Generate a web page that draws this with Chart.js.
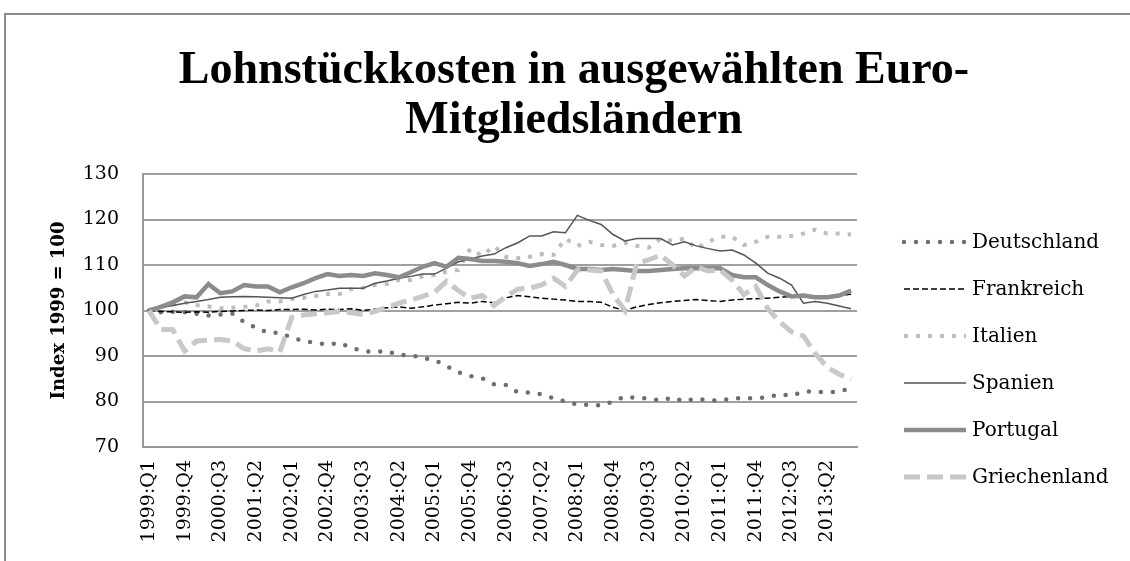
<!DOCTYPE html>
<html>
<head>
<meta charset="utf-8">
<script src="https://cdn.jsdelivr.net/npm/chart.js@4.4.1/dist/chart.umd.min.js"></script>
<style>
  html, body { margin: 0; padding: 0; background: #fff; }
  #wrap { position: relative; width: 1130px; height: 561px; overflow: hidden; }
  #frame { position: absolute; left: 4px; top: 13px; width: 1200px; height: 600px;
           border-top: 2px solid #8c8c8c; border-left: 2px solid #8c8c8c; }
  canvas { position: absolute; left: 0; top: 0; }
</style>
</head>
<body>
<div id="wrap">
  <div id="frame"></div>
  <canvas id="chart_lohn" width="1130" height="561"></canvas>
</div>
<script>
// Quartale 1999:Q1 - 2013:Q4
const quartale = [
  '1999:Q1','1999:Q2','1999:Q3','1999:Q4','2000:Q1','2000:Q2','2000:Q3','2000:Q4',
  '2001:Q1','2001:Q2','2001:Q3','2001:Q4','2002:Q1','2002:Q2','2002:Q3','2002:Q4',
  '2003:Q1','2003:Q2','2003:Q3','2003:Q4','2004:Q1','2004:Q2','2004:Q3','2004:Q4',
  '2005:Q1','2005:Q2','2005:Q3','2005:Q4','2006:Q1','2006:Q2','2006:Q3','2006:Q4',
  '2007:Q1','2007:Q2','2007:Q3','2007:Q4','2008:Q1','2008:Q2','2008:Q3','2008:Q4',
  '2009:Q1','2009:Q2','2009:Q3','2009:Q4','2010:Q1','2010:Q2','2010:Q3','2010:Q4',
  '2011:Q1','2011:Q2','2011:Q3','2011:Q4','2012:Q1','2012:Q2','2012:Q3','2012:Q4',
  '2013:Q1','2013:Q2','2013:Q3','2013:Q4'
];

// nur jedes dritte Quartal wird beschriftet
const xBeschriftung = [
  '1999:Q1','1999:Q4','2000:Q3','2001:Q2','2002:Q1','2002:Q4','2003:Q3','2004:Q2',
  '2005:Q1','2005:Q4','2006:Q3','2007:Q2','2008:Q1','2008:Q4','2009:Q3','2010:Q2',
  '2011:Q1','2011:Q4','2012:Q3','2013:Q2'
];

const yTicks = [70, 80, 90, 100, 110, 120, 130];

const deutschland = [
  100, 99.6, 99.7, 99.6, 99.3, 98.9, 99.1, 99.3, 97.5, 96.2, 95.1, 95.1,
  94.0, 93.3, 92.9, 92.5, 92.9, 91.8, 91.1, 90.9, 91.1, 90.2, 90.2, 89.6,
  89.1, 87.8, 86.4, 85.6, 85.1, 83.8, 83.6, 82.0, 82.0, 81.6, 80.7, 80.0,
  79.3, 79.3, 79.1, 80.0, 81.1, 80.7, 80.7, 80.2, 80.9, 80.0, 80.7, 80.2,
  80.2, 80.7, 80.7, 80.7, 80.9, 81.6, 81.3, 82.2, 82.2, 82.0, 82.2, 82.9
];
const frankreich = [
  100, 99.8, 99.7, 99.6, 99.7, 99.6, 99.8, 99.9, 100, 100.1, 100, 100.2,
  100.2, 100.3, 100.1, 100.3, 100.2, 100.4, 100.0, 100.3, 100.6, 100.8, 100.5, 100.8,
  101.2, 101.5, 101.8, 101.6, 102.0, 101.7, 102.8, 103.3, 103.0, 102.7, 102.5, 102.3,
  102.0, 102.0, 101.8, 100.7, 100.0, 100.8, 101.3, 101.7, 102.0, 102.2, 102.4, 102.2,
  102.0, 102.3, 102.5, 102.6, 102.7, 102.9, 103.1, 103.0, 103.0, 103.0, 103.2, 103.6
];
const italien = [
  100, 100.8, 101.3, 101.8, 101.2, 100.9, 100.5, 100.6, 100.8, 101.1, 102.0, 102.0,
  102.5, 102.8, 103.2, 103.6, 103.6, 104.7, 105.0, 105.6, 105.8, 106.7, 106.7, 107.5,
  107.8, 108.5, 108.9, 113.6, 112.0, 114.2, 111.8, 111.5, 111.8, 112.4, 112.2, 115.8,
  114.2, 115.1, 114.4, 114.2, 114.9, 114.2, 113.8, 115.8, 115.3, 115.8, 113.6, 115.1,
  116.2, 116.2, 114.4, 115.1, 116.2, 116.2, 116.4, 116.9, 117.8, 116.9, 116.9, 116.7
];
const spanien = [
  100, 100.6, 101.1, 101.6, 102.0, 102.4, 102.9, 103.0, 103.1, 103.0, 102.9, 102.8,
  102.7, 103.5, 104.2, 104.5, 104.9, 104.9, 104.9, 106.0, 106.5, 107.1, 107.5, 108.0,
  108.0, 109.3, 110.7, 111.3, 112.0, 112.4, 113.8, 114.9, 116.4, 116.4, 117.3, 117.1,
  120.9, 119.8, 118.9, 116.7, 115.3, 115.8, 115.8, 115.8, 114.4, 115.1, 114.2, 113.6,
  113.1, 113.3, 112.2, 110.4, 108.2, 107.1, 105.6, 101.6, 102.0, 101.6, 101.0, 100.4
];
const portugal = [
  100, 100.8, 101.8, 103.1, 102.9, 105.8, 103.8, 104.2, 105.6, 105.3, 105.3, 104.0,
  105.1, 106.0, 107.1, 108.0, 107.6, 107.8, 107.6, 108.2, 107.8, 107.3, 108.4, 109.6,
  110.4, 109.6, 111.6, 111.3, 110.9, 110.9, 110.7, 110.4, 109.8, 110.2, 110.7, 110.0,
  109.1, 109.1, 108.9, 109.1, 108.9, 108.7, 108.7, 108.9, 109.1, 109.3, 109.3, 109.3,
  109.3, 107.8, 107.3, 107.3, 105.6, 104.2, 103.1, 103.3, 102.9, 102.9, 103.3, 104.4
];
const griechenland = [
  100, 95.8, 95.8, 91.1, 93.3, 93.5, 93.6, 93.3, 91.6, 91.1, 91.6, 90.9,
  98.5, 99.0, 99.3, 99.5, 99.8, 99.5, 99.1, 99.8, 100.7, 101.6, 102.3, 103.1,
  104.0, 106.4, 104.4, 102.7, 103.3, 101.1, 103.1, 104.7, 104.9, 105.6, 107.1, 105.3,
  108.9, 108.9, 108.7, 103.5, 100.0, 110.4, 111.1, 112.2, 110.0, 107.6, 109.6, 108.7,
  108.9, 106.7, 103.5, 105.3, 100.4, 97.5, 95.3, 94.4, 90.5, 87.5, 86.0, 84.9
];

// Legende rechts neben dem Diagramm
const legendePlugin = {
    id: 'legendePlugin',
    afterDraw: (chart) => {
        const ctx = chart.ctx;
        const x0 = chart.chartArea.right + 47;
        ctx.save();
        ctx.font = '20px "DejaVu Serif"';
        ctx.textBaseline = 'middle';
        ctx.textAlign = 'left';
        chart.data.datasets.forEach((ds, i) => {
            const y = 242 + i * 47;
            ctx.beginPath();
            ctx.setLineDash(ds.borderDash || []);
            ctx.lineCap = ds.borderCapStyle || 'butt';
            ctx.lineWidth = ds.borderWidth;
            ctx.strokeStyle = ds.borderColor;
            ctx.moveTo(x0, y);
            ctx.lineTo(x0 + 62, y);
            ctx.stroke();
            ctx.setLineDash([]);
            ctx.fillStyle = '#000';
            ctx.fillText(ds.label, x0 + 68, y + 1);
        });
        ctx.restore();
    }
};

const ctx_lohn = document.getElementById('chart_lohn').getContext('2d');

new Chart(ctx_lohn, {
    type: 'line',
    data: {
        labels: quartale,
        datasets: [
            {
                label: 'Deutschland', data: deutschland, order: 5,
                borderColor: '#6e6e6e', borderWidth: 4.5,
                borderDash: [0, 12], borderCapStyle: 'round'
            },
            {
                label: 'Frankreich', data: frankreich, order: 4,
                borderColor: '#000000', borderWidth: 1.5,
                borderDash: [6, 3]
            },
            {
                label: 'Italien', data: italien, order: 3,
                borderColor: '#bdbdbd', borderWidth: 4,
                borderDash: [4, 8]
            },
            {
                label: 'Spanien', data: spanien, order: 2,
                borderColor: '#555555', borderWidth: 1.5
            },
            {
                label: 'Portugal', data: portugal, order: 1,
                borderColor: '#8c8c8c', borderWidth: 4.5
            },
            {
                label: 'Griechenland', data: griechenland, order: 0,
                borderColor: '#c8c8c8', borderWidth: 5,
                borderDash: [16, 7]
            }
        ]
    },
    options: {
        responsive: false,
        animation: false,
        devicePixelRatio: 1,
        elements: {
            point: { radius: 0 },
            line: { tension: 0, fill: false }
        },
        layout: { padding: { left: 18, right: 0, top: 0, bottom: 0 } },
        scales: {
            x: {
                offset: true,
                grid: { display: false, drawTicks: false },
                border: { display: true, color: '#9a9a9a', width: 2 },
                ticks: {
                    autoSkip: false,
                    minRotation: 90,
                    maxRotation: 90,
                    padding: 13,
                    color: '#000',
                    font: { family: 'DejaVu Serif', size: 19 },
                    callback: function(value) {
                        const lbl = this.getLabelForValue(value);
                        return xBeschriftung.includes(lbl) ? lbl : '';
                    }
                },
                afterFit: (scale) => { scale.height = 114; }
            },
            y: {
                min: 70,
                max: 130,
                afterBuildTicks: (scale) => { scale.ticks = yTicks.map(v => ({ value: v })); },
                grid: { color: '#a0a0a0', lineWidth: 2, drawTicks: false },
                border: { display: true, color: '#9a9a9a', width: 2 },
                ticks: {
                    padding: 24,
                    color: '#000',
                    font: { family: 'DejaVu Serif', size: 19 }
                },
                title: {
                    display: true,
                    text: 'Index 1999 = 100',
                    color: '#000',
                    font: { family: 'DejaVu Serif', size: 18, weight: 'bold' },
                    padding: { top: 31, bottom: 0 }
                },
                afterFit: (scale) => { scale.width = 125; }
            },
            // Platzhalter-Achse rechts, damit Platz fuer die Legende bleibt
            rechts: {
                position: 'right',
                display: true,
                grid: { display: false, drawOnChartArea: false },
                border: { display: false },
                ticks: { display: false },
                afterFit: (scale) => { scale.width = 273; }
            }
        },
        plugins: {
            legend: { display: false },
            tooltip: { enabled: false },
            title: {
                display: true,
                text: ['Lohnstückkosten in ausgewählten Euro-', 'Mitgliedsländern'],
                color: '#000',
                font: { family: 'Liberation Serif', size: 46, weight: 'bold', lineHeight: 1.087 },
                padding: { top: 46, bottom: 28 }
            }
        }
    },
    plugins: [legendePlugin]
});
</script>
</body>
</html>
